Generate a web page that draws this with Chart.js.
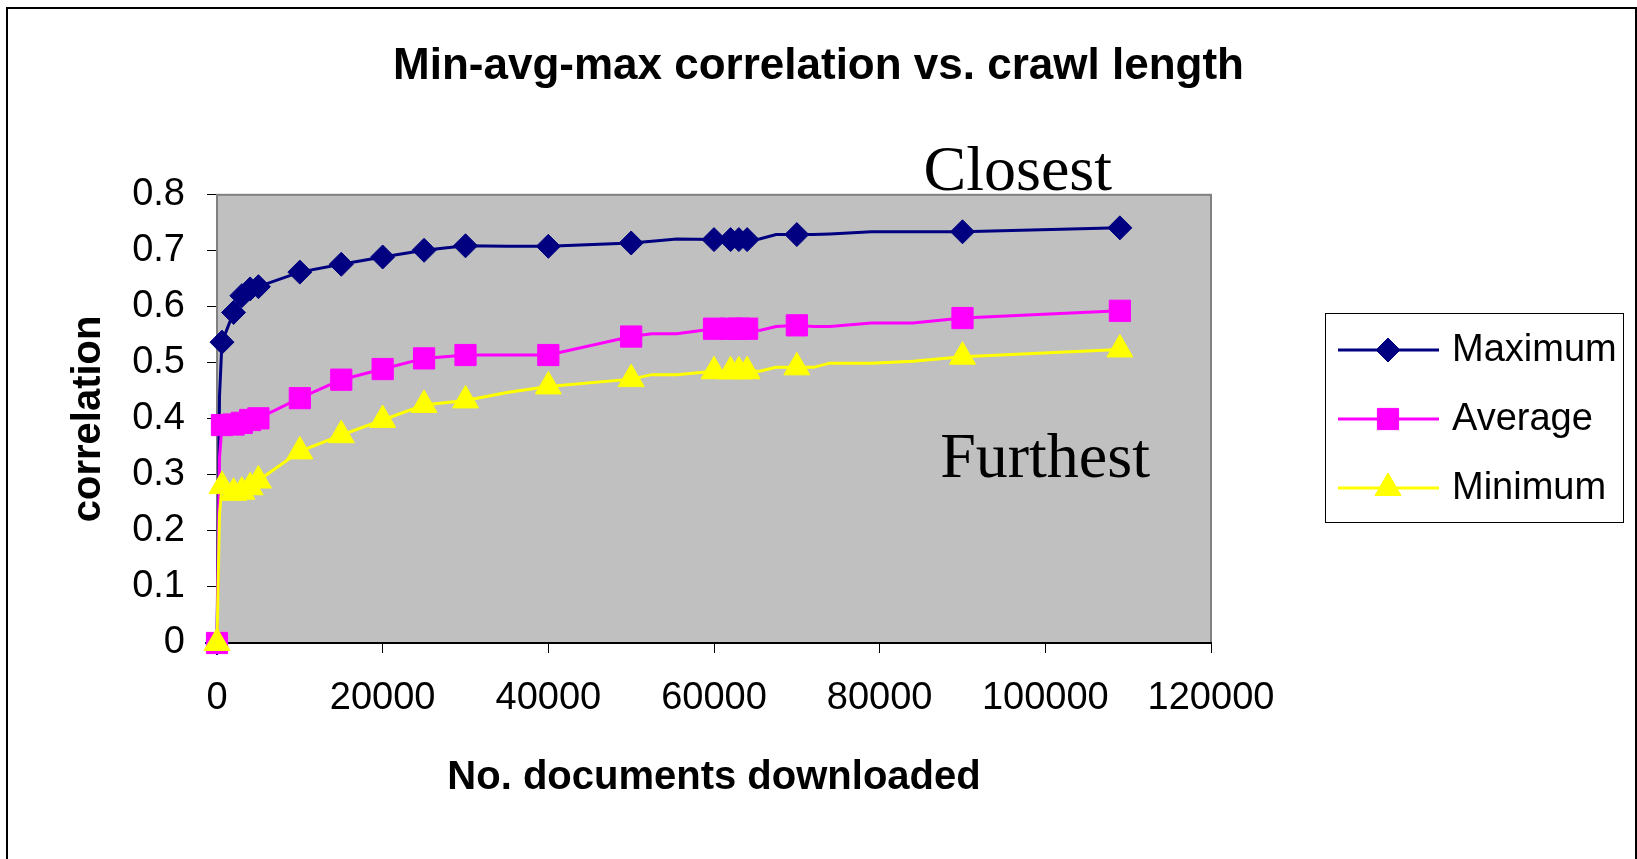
<!DOCTYPE html>
<html>
<head>
<meta charset="utf-8">
<title>Min-avg-max correlation vs. crawl length</title>
<script src="https://cdn.jsdelivr.net/npm/chart.js@4.4.1/dist/chart.umd.min.js"></script>
<style>
  html, body { margin: 0; padding: 0; background: #fff; }
  canvas { display: block; }
</style>
</head>
<body>
<canvas id="chart" width="1637" height="859"></canvas>
<script>
// crawl points that carry a marker
var docs = [0, 600, 2000, 3000, 4000, 5000, 10000, 15000, 20000, 25000, 30000,
            40000, 50000, 60000, 62000, 63000, 64000, 70000, 90000, 109000];
var maxCorr = [0, 0.537, 0.590, 0.620, 0.632, 0.636, 0.662, 0.676, 0.689, 0.701, 0.709,
               0.708, 0.714, 0.720, 0.720, 0.720, 0.720, 0.729, 0.734, 0.741];
var avgCorr = [0, 0.389, 0.390, 0.393, 0.398, 0.401, 0.437, 0.470, 0.489, 0.508, 0.514,
               0.514, 0.547, 0.561, 0.561, 0.561, 0.561, 0.567, 0.580, 0.593];
var minCorr = [0, 0.280, 0.268, 0.270, 0.278, 0.290, 0.342, 0.371, 0.398, 0.425, 0.433,
               0.458, 0.471, 0.485, 0.485, 0.485, 0.485, 0.492, 0.511, 0.524];

// points where the line bends but no marker is shown
var bendDocs = [300, 35000, 52500, 55500, 65500, 67500, 72000, 74000, 79000, 84000];
var maxBend = [0.44, 0.708, 0.717, 0.721, 0.721, 0.729, 0.729, 0.730, 0.734, 0.734];
var avgBend = [0.33, 0.514, 0.552, 0.552, 0.558, 0.565, 0.565, 0.565, 0.571, 0.571];
var minBend = [0.23, 0.447, 0.479, 0.479, 0.485, 0.492, 0.492, 0.4995, 0.4995, 0.503];

var xTicks = [0, 20000, 40000, 60000, 80000, 100000, 120000];
var yTicks = [0, 0.1, 0.2, 0.3, 0.4, 0.5, 0.6, 0.7, 0.8];

var seriesNames = ['Maximum', 'Average', 'Minimum'];

// text written inside the chart (x in documents, y in correlation)
var notes = [
  {text: 'Closest', x: 85300, y: 0.809},
  {text: 'Furthest', x: 87300, y: 0.297}
];

var sans = '"Liberation Sans", Arial, sans-serif';
var serif = '"Liberation Serif", "Times New Roman", serif';

function series(xs, ys, bx, by) {
  var pts = xs.map(function (x, i) {
    return {x: x, y: ys[i], mark: true};
  });
  bx.forEach(function (x, i) {
    pts.push({x: x, y: by[i], mark: false});
  });
  return pts.sort(function (a, b) { return a.x - b.x; });
}

function markerSize(r) {
  return function (ctx) {
    return ctx.raw && ctx.raw.mark ? r : 0;
  };
}

var frame = {
  id: 'frame',
  beforeDraw: function (chart) {
    var ctx = chart.ctx, a = chart.chartArea;
    ctx.save();
    ctx.fillStyle = '#fff';
    ctx.fillRect(0, 0, chart.width, chart.height);
    ctx.strokeStyle = '#000';
    ctx.lineWidth = 2;
    ctx.strokeRect(7, 8, chart.width - 8, chart.height + 20);
    ctx.fillStyle = '#c0c0c0';
    ctx.fillRect(a.left, a.top, a.right - a.left, a.bottom - a.top);
    ctx.strokeStyle = '#808080';
    ctx.lineWidth = 2;
    ctx.strokeRect(a.left, a.top, a.right - a.left, a.bottom - a.top);
    ctx.restore();
  },
  afterDraw: function (chart) {
    var ctx = chart.ctx;
    var xs = chart.scales.x, ys = chart.scales.y;
    ctx.save();
    // Closest / Furthest
    ctx.fillStyle = '#000';
    ctx.font = '64px ' + serif;
    ctx.textAlign = 'left';
    ctx.textBaseline = 'alphabetic';
    notes.forEach(function (n) {
      ctx.fillText(n.text, xs.getPixelForValue(n.x), ys.getPixelForValue(n.y));
    });

    // legend box
    ctx.strokeStyle = '#000';
    ctx.lineWidth = 1;
    ctx.strokeRect(1325.5, 313.5, 298, 209);
    ctx.font = '38px ' + sans;
    ctx.textBaseline = 'middle';
    var ordered = chart.data.datasets.slice().sort(function (p, q) {
      return seriesNames.indexOf(p.label) - seriesNames.indexOf(q.label);
    });
    ordered.forEach(function (ds, i) {
      var y = 350 + i * 69;
      ctx.strokeStyle = ds.borderColor;
      ctx.lineWidth = 3;
      ctx.beginPath();
      ctx.moveTo(1338, y);
      ctx.lineTo(1439, y);
      ctx.stroke();
      ctx.fillStyle = ds.backgroundColor;
      ctx.lineWidth = 1;
      Chart.helpers.drawPoint(ctx, {
        pointStyle: ds.pointStyle, radius: ds.legendRadius, rotation: 0, borderWidth: 1
      }, 1388, y);
      ctx.fillStyle = '#000';
      ctx.fillText(ds.label, 1452, y + 1);
    });
    ctx.restore();
  }
};

function makeChart() {
  var chart = new Chart('chart', {
    type: 'line',
    data: {
      datasets: [{
        label: 'Maximum',
        data: series(docs, maxCorr, bendDocs, maxBend),
        borderColor: '#000080',
        backgroundColor: '#000080',
        pointStyle: 'rectRot',
        pointRadius: markerSize(12),
        legendRadius: 12,
        order: 3
      }, {
        label: 'Average',
        data: series(docs, avgCorr, bendDocs, avgBend),
        borderColor: '#ff00ff',
        backgroundColor: '#ff00ff',
        pointStyle: 'rect',
        pointRadius: markerSize(15),
        legendRadius: 15,
        order: 2
      }, {
        label: 'Minimum',
        data: series(docs, minCorr, bendDocs, minBend),
        borderColor: '#ffff00',
        backgroundColor: '#ffff00',
        pointStyle: 'triangle',
        pointRadius: markerSize(15),
        legendRadius: 15,
        order: 1
      }]
    },
    options: {
      responsive: false,
      animation: false,
      events: [],
      clip: false,
      elements: {
        line: {borderWidth: 3, tension: 0},
        point: {borderWidth: 1, hoverRadius: 0}
      },
      layout: {padding: 0},
      scales: {
        x: {
          type: 'linear',
          min: 0,
          max: 120000,
          afterBuildTicks: function (s) {
            s.ticks = xTicks.map(function (v) { return {value: v}; });
          },
          afterFit: function (s) { s.height = 216; },
          ticks: {
            font: {family: sans, size: 38},
            color: '#000',
            padding: 23,
            maxRotation: 0,
            autoSkip: false,
            callback: function (v) { return String(v); }
          },
          grid: {drawOnChartArea: false, tickLength: 10, color: '#000'},
          border: {color: '#000', width: 2},
          title: {
            display: true,
            text: 'No. documents downloaded',
            font: {family: sans, size: 40, weight: 'bold'},
            color: '#000',
            padding: {top: 0, bottom: 57}
          }
        },
        y: {
          min: 0,
          max: 0.8,
          afterBuildTicks: function (s) {
            s.ticks = yTicks.map(function (v) { return {value: v}; });
          },
          afterFit: function (s) { s.width = 217; },
          ticks: {
            font: {family: sans, size: 38},
            color: '#000',
            padding: 22,
            callback: function (v) { return String(v); }
          },
          grid: {drawOnChartArea: false, tickLength: 10, color: '#000'},
          border: {color: '#808080', width: 2},
          title: {
            display: true,
            text: 'correlation',
            font: {family: sans, size: 40, weight: 'bold'},
            color: '#000',
            padding: {top: 65, bottom: 0}
          }
        },
        // empty right-hand axis that keeps room for the legend
        side: {
          position: 'right',
          afterFit: function (s) { s.width = 426; },
          ticks: {display: false},
          grid: {display: false},
          border: {display: false}
        }
      },
      plugins: {
        legend: {display: false},
        tooltip: {enabled: false},
        title: {
          display: true,
          text: 'Min-avg-max correlation vs. crawl length',
          font: {family: sans, size: 44, weight: 'bold'},
          color: '#000',
          padding: {top: 40, bottom: 102}
        }
      }
    },
    plugins: [frame]
  });
  return chart;
}

makeChart();
</script>
</body>
</html>
